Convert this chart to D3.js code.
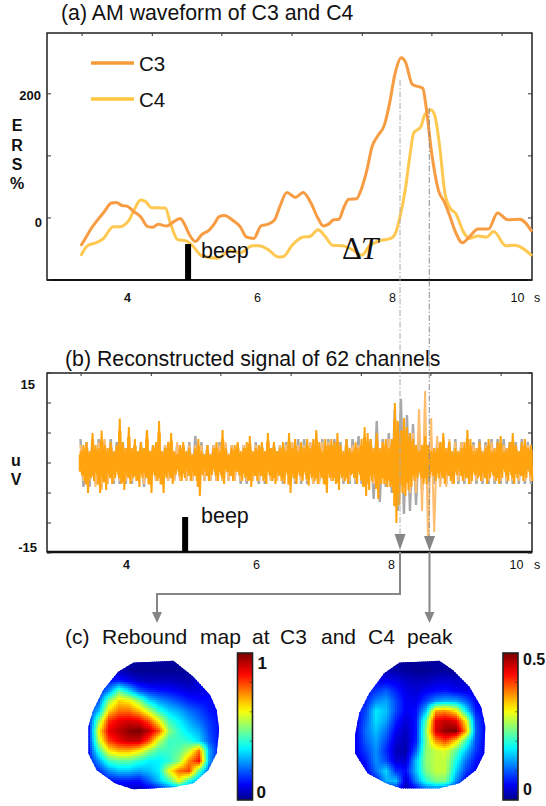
<!DOCTYPE html>
<html><head><meta charset="utf-8">
<script src="https://cdn.jsdelivr.net/npm/d3@7"></script>
<style>html,body{margin:0;padding:0;background:#fff}svg{display:block}text{font-family:"Liberation Sans",Arial,sans-serif;fill:#111}</style>
</head><body><svg id="c" width="546" height="806"></svg>
<script>
// ---- Panel (a): AM waveform ----
const c3Time=[3.29,3.36,3.45,3.55,3.65,3.76,3.84,3.92,4.00,4.11,4.21,4.32,4.40,4.48,4.61,4.72,4.82,4.88,4.96,5.05,5.15,5.26,5.34,5.42,5.50,5.63,5.74,5.84,5.95,6.06,6.17,6.27,6.35,6.46,6.59,6.71,6.83,6.94,7.02,7.10,7.18,7.26,7.34,7.41,7.53,7.61,7.69,7.77,7.85,7.96,8.04,8.12,8.22,8.28,8.39,8.55,8.60,8.68,8.79,8.89,8.97,9.05,9.16,9.27,9.40,9.56,9.70,9.86,10.04,10.23];
const c3Value=[-45,-33,-17,-3,10,24,25,20,19,10,2,-14,-15,-10,-13,-6,-1,-9,-27,-38,-27,-20,-10,2,4,-4,-14,-31,-33,-13,-10,-3,18,41,33,41,24,-1,-13,-10,-3,-2,18,30,31,48,77,115,131,150,185,231,258,252,215,209,180,110,45,24,2,-22,-40,-30,-18,-18,8,-3,-2,-22];
const c4Time=[3.29,3.39,3.52,3.63,3.79,3.89,4.03,4.11,4.21,4.29,4.37,4.59,4.67,4.78,4.91,5.02,5.15,5.39,5.58,5.74,5.93,6.03,6.17,6.33,6.41,6.54,6.70,6.81,6.94,7.05,7.16,7.32,7.48,7.61,7.74,7.88,8.06,8.14,8.20,8.28,8.35,8.41,8.52,8.58,8.68,8.74,8.81,8.89,8.97,9.05,9.19,9.27,9.40,9.53,9.64,9.83,9.96,10.23];
const c4Value=[-61,-45,-40,-34,-14,-14,-4,13,29,26,17,16,-9,-35,-37,-46,-61,-65,-53,-56,-45,-45,-51,-63,-62,-44,-31,-30,-19,-30,-44,-45,-52,-60,-44,-37,-33,-22,2,45,99,137,147,166,174,163,115,40,16,8,-25,-33,-29,-31,-22,-45,-44,-61];
const ersTicks=[-100,0,100,200];
const ersLabels=[0,200];
const timeLabels=[4,6,8,10];
const frameTicks=[3.31,4.39,5.46,6.54,7.62,8.69,9.77];
const beepTime=4.94;
const peakTimes=[8.2,8.65];

// ---- Panel (b): reconstructed signal, sample envelope every step ----
const signalStart=3.3, signalStep=0.0465;
const orangeHi=[2,3,3.5,2,5,3,2.5,5.4,3,2.5,3.5,2,3,7.4,3.5,2.5,6,2.5,4,2,3.5,2.5,5.5,2,3,3.5,7,2,2.5,3.5,5,2,1.5,3,3.5,2,2.5,1.5,2.5,4,2,1.5,3,1.5,2.5,3.5,2,5.5,2.5,1.5,2.5,3,3.5,2,2.5,3.5,4.5,2,2.5,3,3.5,2,5,2.5,3.5,2,2.5,3.5,2,5,2.5,4,2,3.5,2.5,4,2.5,4,5.5,3.5,2,4,3,4,3.5,5,3,2,4,2.5,2,3.5,2.5,4,6,5,4,2.5,5,2.5,3.5,4,2.5,4,10,7,5.5,7.5,6,5,4,3,2,3,4.5,3,2,2.5,2.5,3.5,5,2.5,3.5,2,2.5,2,2.5,3.5,5.5,4,2,2.5,3.5,2,2.5,4,2,2.5,3.5,4.5,2,2.5,3.5,5,3,2,3.5,4,2.5,3];
const orangeLo=[-2,-3,-5,-2.5,-3,-2,-5,-3,-4.5,-2,-3.5,-2.5,-2,-3.5,-4.5,-2,-3.5,-2.5,-3,-4,-2.5,-2,-3.5,-5,-2,-3,-3.5,-5,-2.5,-2,-3.5,-2,-1.5,-3,-2.5,-1.5,-3,-2,-3,-5.5,-2,-1.5,-3,-2,-1.5,-3,-2,-3.5,-1.5,-2,-3,-1.5,-2,-3,-2.5,-3,-4,-2,-3,-2,-3,-3.5,-2,-3,-3.5,-2,-3,-3.5,-2,-5,-2.5,-3.5,-2,-3,-2,-3.8,-2.5,-3,-3.5,-2,-3.5,-5,-2.5,-3,-3.5,-4.5,-2.5,-3,-3.5,-2,-2.5,-3.5,-2,-4,-5.5,-4.5,-3,-2.5,-6,-3.5,-3.5,-4,-4,-5,-10,-7,-5,-5.5,-4.5,-4,-3,-2.5,-2,-3.5,-3.5,-2.5,-2,-3,-2.5,-2,-3.5,-2,-3,-3.5,-2,-1.5,-3,-2.5,-3.5,-3,-2,-2.5,-3,-2,-3.5,-2.5,-2,-3,-3.5,-2.5,-1.5,-3,-2,-3.5,-2.5,-2,-3,-2.5,-1.5,-3];
const grayHi=[4,3.5,4,4,3.5,4,3.5,3.5,3.5,3,3.5,3,3,3,3,3,3,3,3.5,4.5,3.5,3,3,3.5,3,3,3,3,3,3.5,3,3.5,3,3,3.5,3.5,4,4,3.5,4,4,4,4,3.5,4,4,4.5,4,4,7,4,5,9,10.7,8,6.5,4,3.5,3.5,3.5,3.5,3.5,4,3.5,4,3.5,4,3.5,4,4,4,3.5,3.5,4,3.5];
const grayLo=[-4,-4,-3.5,-4,-3.5,-3.5,-3.5,-3.5,-3.5,-3,-4,-3.5,-3,-3,-3,-3,-3,-3,-3,-4,-3,-3,-3,-3,-3,-3,-3.5,-3.5,-3,-3.5,-3.5,-3,-3,-3.5,-3,-3.5,-3.5,-3.5,-3.5,-3,-3.5,-3,-3,-3.5,-3.5,-3.5,-3.5,-3.5,-6,-6.5,-4,-5,-8,-8.5,-8,-7,-4.5,-3.5,-3.5,-3.5,-3.5,-3.5,-3.5,-3.5,-3.5,-3.5,-3.5,-3.5,-3.5,-3.5,-3.5,-3.5,-3.5,-3.5,-3.5];
const lightHi=[3,3,4,3.5,4,3,3,3,3,3,3,5.5,3,3,3,4,3.5,3,3,3,3,3,3,3,3.5,3,3,3,3,3,3,3,3,3,3,3.5,3,3,3.5,5,3.5,3.5,3,3,3.5,3,3,3,3.5,4,3.5,4,5,5,5,5,9,12,7.5,4.5,4.5,4,3.5,3.5,3.5,3,3,3,3.5,3,3,3,3,3,3];
const lightLo=[-3,-3,-4,-4.5,-3.5,-3,-3,-3,-3,-3,-3.5,-3,-3,-3,-3,-3,-3,-3,-3,-3,-3,-3,-3,-3,-3,-3,-3,-3,-3,-3,-3,-3,-3,-3,-3,-3,-3,-3,-3.5,-3.5,-3.5,-3,-3,-3,-3,-3,-3,-3,-3.5,-3.5,-3.5,-4,-5,-5,-5,-5,-8,-13.5,-11.5,-4,-4,-3.5,-3,-3,-3.5,-3,-3,-3,-3,-3,-3,-3,-3,-3,-3];
const uvTicks=[-15,-10,-5,0,5,10,15];

// ---- Panel (c): normalised scalp maps (14 x 14 samples) ----
const mapC3=[
[.02,.02,.02,.02,.02,.02,.02,.02,.02,.02,.02,.02,.02,.02],
[.05,.05,.06,.05,.02,.01,.01,.01,.01,.01,.02,.05,.05,.05],
[.1,.1,.13,.14,.1,.06,.05,.05,.05,.04,.03,.08,.1,.1],
[.12,.13,.25,.45,.33,.2,.15,.13,.12,.1,.08,.08,.1,.1],
[.13,.2,.5,.65,.62,.5,.33,.26,.22,.18,.14,.12,.12,.1],
[.15,.3,.65,.75,.75,.68,.55,.4,.32,.28,.22,.18,.13,.11],
[.14,.5,.82,.88,.9,.88,.78,.6,.42,.35,.28,.22,.16,.12],
[.13,.62,.88,.93,.98,1,.93,.78,.5,.4,.33,.28,.18,.12],
[.14,.55,.8,.88,.92,.92,.78,.55,.42,.42,.4,.33,.2,.12],
[.13,.4,.62,.68,.68,.62,.5,.42,.42,.45,.55,.75,.28,.12],
[.12,.26,.42,.45,.45,.4,.35,.35,.4,.5,.72,.85,.28,.1],
[.1,.15,.25,.3,.3,.27,.3,.35,.6,.75,.8,.45,.18,.08],
[.05,.08,.12,.13,.13,.12,.2,.3,.42,.6,.4,.25,.1,.05],
[.02,.03,.05,.06,.04,.03,.06,.1,.15,.16,.12,.08,.05,.02]];
const mapC4=[
[.02,.02,.02,.02,.02,.02,.02,.02,.02,.02,.02,.02,.02,.02],
[.05,.05,.05,.05,.03,.02,.01,.01,.02,.02,.02,.04,.05,.05],
[.08,.08,.1,.1,.09,.06,.05,.05,.07,.07,.06,.07,.08,.08],
[.1,.12,.16,.2,.14,.09,.07,.1,.12,.13,.1,.09,.1,.1],
[.11,.14,.24,.27,.18,.1,.09,.17,.25,.28,.27,.2,.1,.1],
[.11,.18,.34,.3,.18,.1,.12,.3,.7,.72,.62,.35,.13,.1],
[.1,.2,.33,.27,.14,.07,.13,.45,.88,.92,.88,.62,.18,.1],
[.1,.22,.3,.22,.1,.05,.13,.5,.9,.98,1,.7,.2,.1],
[.1,.2,.27,.18,.07,.04,.14,.48,.72,.8,.65,.42,.18,.1],
[.1,.17,.25,.15,.05,.03,.2,.5,.55,.58,.45,.3,.16,.09],
[.08,.13,.25,.18,.07,.07,.3,.5,.55,.55,.38,.22,.12,.08],
[.05,.1,.22,.32,.15,.12,.3,.48,.55,.55,.32,.17,.1,.05],
[.03,.05,.12,.28,.3,.06,.24,.4,.48,.48,.25,.1,.05,.03],
[.02,.03,.05,.08,.1,.03,.08,.15,.15,.12,.08,.04,.02,.02]];
const outlineC3=[[4.5,.27],[8.5,.07],[10.5,1.67],[12.17,3.5],[12.83,5],[13.1,7],[12.83,9.33],[12,11],[10.5,12.33],[8.5,12.73],[4.5,12.93],[2.67,12.33],[.83,11],[0,9.33],[0,6.67],[.5,5],[1.5,3],[3,1.17]];
const outlineC4=[[4.43,.27],[8.43,.07],[9.77,1],[11.43,2.67],[12.6,4.67],[13.03,6.67],[12.93,9.33],[12.1,11],[10.43,12.33],[8.43,12.83],[4.6,12.83],[3.1,12.33],[1.27,11.33],[0,9.33],[0,7.5],[.43,5.33],[1.43,3.33],[2.93,1.33]];

const svg=d3.select("#c");
const jet=d3.scaleLinear().domain([0,.11,.36,.61,.86,1]).range(["#00008a","#0000ff","#00ffff","#ffff00","#ff0000","#7a0000"]).clamp(true);
const label=(t,x,y,s,o={})=>svg.append("text").attr("x",x).attr("y",y).attr("font-size",s).attr("font-weight",o.w||"normal").attr("text-anchor",o.a||"start").attr("font-style",o.i||null).attr("style",o.f?`font-family:${o.f}`:null).text(t);

const FL=47,FR=532;
const xA=d3.scaleLinear().domain([2.77,10.23]).range([FL,FR]);
const xB=d3.scaleLinear().domain([2.77,10.23]).range([FL-1,FR-1]);

function frame(top,bottom,yScale,yTicks,xScale,bw){
  const g=svg.append("g");
  g.append("rect").attr("x",FL).attr("y",top).attr("width",FR-FL).attr("height",bottom-top).attr("fill","none").attr("stroke","#111").attr("stroke-width",1.4);
  g.append("line").attr("x1",FL).attr("x2",FR).attr("y1",bottom).attr("y2",bottom).attr("stroke","#111").attr("stroke-width",bw);
  g.append("g").selectAll("line").data(yTicks).join("line").attr("x1",FL).attr("x2",FL+4).attr("y1",yScale).attr("y2",yScale).attr("stroke","#333");
  g.append("g").selectAll("line").data(yTicks).join("line").attr("x1",FR-4).attr("x2",FR).attr("y1",yScale).attr("y2",yScale).attr("stroke","#333");
  g.append("g").selectAll("line").data(frameTicks).join("line").attr("x1",xScale).attr("x2",xScale).attr("y1",top).attr("y2",top+3).attr("stroke","#333");
}
function xLabels(scale,y,offs){
  const ax=d3.axisBottom(scale).tickValues(timeLabels).tickSize(0).tickPadding(0).tickFormat(d3.format("d"));
  const g=svg.append("g").attr("transform",`translate(0,${y})`).call(ax);
  g.select(".domain").remove();
  g.selectAll("text").attr("font-size",12.5).attr("dy",0).attr("font-weight",d=>d===4?"bold":"normal").attr("dx",d=>offs[d]||0).style("fill","#111");
}

// ---- Panel a ----
label("(a) AM waveform of C3 and C4",61,20,21.3);
const yA=d3.scaleLinear().domain([-100,298]).range([280,33]);
frame(33,280,yA,ersTicks,xA,2);
[["E",131],["R",151],["S",170],["%",189]].forEach(d=>label(d[0],17,d[1],16,{w:"bold",a:"middle"}));
label(ersLabels[1],41,100,13,{w:"bold",a:"end"});
label(ersLabels[0],42,227,13,{w:"bold",a:"end"});
const lineA=d3.line().curve(d3.curveMonotoneX);
const ptsC3=c3Time.map((t,i)=>[xA(t),yA(c3Value[i])]);
const ptsC4=c4Time.map((t,i)=>[xA(t),yA(c4Value[i])]);
svg.append("path").attr("d",lineA(ptsC4)).attr("fill","none").attr("stroke","#ffc850").attr("stroke-width",3);
svg.append("path").attr("d",lineA(ptsC3)).attr("fill","none").attr("stroke","#f79c42").attr("stroke-width",3);
[["C3",63,"#f79a3a"],["C4",99,"#ffc63e"]].forEach(d=>{
  svg.append("line").attr("x1",91).attr("x2",134).attr("y1",d[1]).attr("y2",d[1]).attr("stroke",d[2]).attr("stroke-width",3.5);
  label(d[0],139,d[1]+7.5,20.5);
});
svg.append("rect").attr("x",xA(beepTime)-3).attr("y",244).attr("width",6).attr("height",36).attr("fill","#000");
label("beep",201,258,21.5);
label("Δ",342,259,31,{f:"'Liberation Serif',serif"});
label("T",361,259,31,{i:"italic",f:"'Liberation Serif',serif"});
xLabels(xA,302,{4:0,6:0,8:5,10:0});
label("s",534,302,12.5);

// ---- Panel b ----
label("(b) Reconstructed signal of 62 channels",65,366,21.3);
const yB=d3.scaleLinear().domain([-15,15]).range([553,373]);
frame(373,552,yB,uvTicks,xB,2.5);
label("15",35,389,13,{w:"bold",a:"end"});
label("-15",37,552,13,{w:"bold",a:"end"});
label("u",16,466,16,{w:"bold",a:"middle"});
label("V",16,485,16,{w:"bold",a:"middle"});
function envelope(hi,lo,stride,color,width){
  const pts=[];
  hi.forEach((h,i)=>{const t=signalStart+i*stride*signalStep;
    pts.push([xB(t),yB(h)]);pts.push([xB(t+stride*signalStep/2),yB(lo[i])]);});
  svg.append("path").attr("d",d3.line()(pts)).attr("fill","none").attr("stroke",color).attr("stroke-width",width).attr("stroke-linejoin","bevel");
}
function core(hi,lo,color,width,share){
  svg.append("g").selectAll("line").data(hi).join("line")
    .attr("x1",(d,i)=>xB(signalStart+i*signalStep)).attr("x2",(d,i)=>xB(signalStart+i*signalStep))
    .attr("y1",d=>yB(d*share)).attr("y2",(d,i)=>yB(lo[i]*share))
    .attr("stroke",color).attr("stroke-width",width);
}
envelope(grayHi,grayLo,2,"#a8a8a8",2.4);
envelope(lightHi,lightLo,2,"#ffbd6e",2);
core(orangeHi,orangeLo,"#ffa30f",3.4,.72);
envelope(orangeHi,orangeLo,1,"#ffa30f",2);
svg.append("rect").attr("x",xB(4.91)-3).attr("y",517).attr("width",6).attr("height",35).attr("fill","#000");
label("beep",201,523,21.5);
xLabels(xB,569,{4:0,6:0,8:5,10:0});
label("s",534,569,12.5);

// ---- peak guides and arrows ----
const guide=[[xA(peakTimes[0]),80,535],[xA(peakTimes[1]),108,537]];
guide.forEach((g,i)=>svg.append("line").attr("x1",g[0]).attr("x2",g[0]).attr("y1",g[1]).attr("y2",g[2]).attr("stroke",i?"#8a8a8a":"#aaa").attr("stroke-width",1).attr("stroke-dasharray","6 2 1.5 2"));
const grey="#868686";
const tri=(x,y1,y2,w)=>svg.append("path").attr("d",`M${x-w},${y1}L${x+w},${y1}L${x},${y2}Z`).attr("fill",grey);
tri(400,534,550,5.5);tri(429.5,536,551,5.5);
svg.append("path").attr("d","M400,552V594H157V612").attr("fill","none").attr("stroke",grey).attr("stroke-width",2);
svg.append("path").attr("d","M429.5,552V612").attr("fill","none").attr("stroke",grey).attr("stroke-width",2);
tri(157,612,623,5);tri(429.5,612,623,5);

// ---- Panel c ----
[["(c)",65],["Rebound",102],["map",200],["at",252],["C3",280],["and",321],["C4",368],["peak",407]].forEach(d=>label(d[0],d[1],644,21));
function scalp(values,outline,ox,oy,id){
  const cell=10,sub=5,n=values.length,m=values[0].length;
  const cells=[];
  for(let r=0;r<(n-1)*sub;r++)for(let c=0;c<(m-1)*sub;c++){
    const fr=r/sub,fc=c/sub,r0=Math.floor(fr),c0=Math.floor(fc),dr=fr-r0,dc=fc-c0;
    const v=d3.interpolateNumber(d3.interpolateNumber(values[r0][c0],values[r0][c0+1])(dc),d3.interpolateNumber(values[r0+1][c0],values[r0+1][c0+1])(dc))(dr);
    cells.push({r,c,v});
  }
  const px=d3.scaleLinear().domain([0,m-1]).range([ox,ox+cell*(m-1)]);
  const py=d3.scaleLinear().domain([0,n-1]).range([oy,oy+cell*(n-1)]);
  svg.append("clipPath").attr("id",id).append("polygon").attr("points",outline.map(p=>[px(p[0]),py(p[1])].join(",")).join(" "));
  svg.append("g").attr("clip-path",`url(#${id})`).selectAll("rect").data(cells).join("rect")
    .attr("x",d=>Math.floor(px(d.c/sub))).attr("y",d=>Math.floor(py(d.r/sub))).attr("width",3).attr("height",3).attr("fill",d=>jet(d.v));
}
scalp(mapC3,outlineC3,88.3,660,"hc3");
scalp(mapC4,outlineC4,355,660,"hc4");
function bar(x,w,top,bottom,id,labels){
  const grad=svg.append("defs").append("linearGradient").attr("id",id).attr("x1",0).attr("x2",0).attr("y1",1).attr("y2",0);
  d3.range(0,1.001,.05).forEach(f=>grad.append("stop").attr("offset",f).attr("stop-color",jet(f)));
  svg.append("rect").attr("x",x).attr("y",top).attr("width",w).attr("height",bottom-top).attr("fill",`url(#${id})`).attr("stroke","#222").attr("stroke-width",1.6);
  const y=d3.scaleLinear().domain([0,1]).range([bottom,top]);
  svg.append("g").selectAll("line").data([.2,.4,.6,.8]).join("line").attr("x1",x+w-3).attr("x2",x+w).attr("y1",y).attr("y2",y).attr("stroke","#222").attr("stroke-opacity",.5);
  labels.forEach(l=>label(l[0],x+w+l[2],l[1],l[3],{w:"bold"}));
}
bar(237.5,15,653,800,"cb1",[["1",669,5,17],["0",798,4,17]]);
bar(503,15,653,800,"cb2",[["0.5",665,5,16],["0",795,5,16]]);
</script></body></html>
